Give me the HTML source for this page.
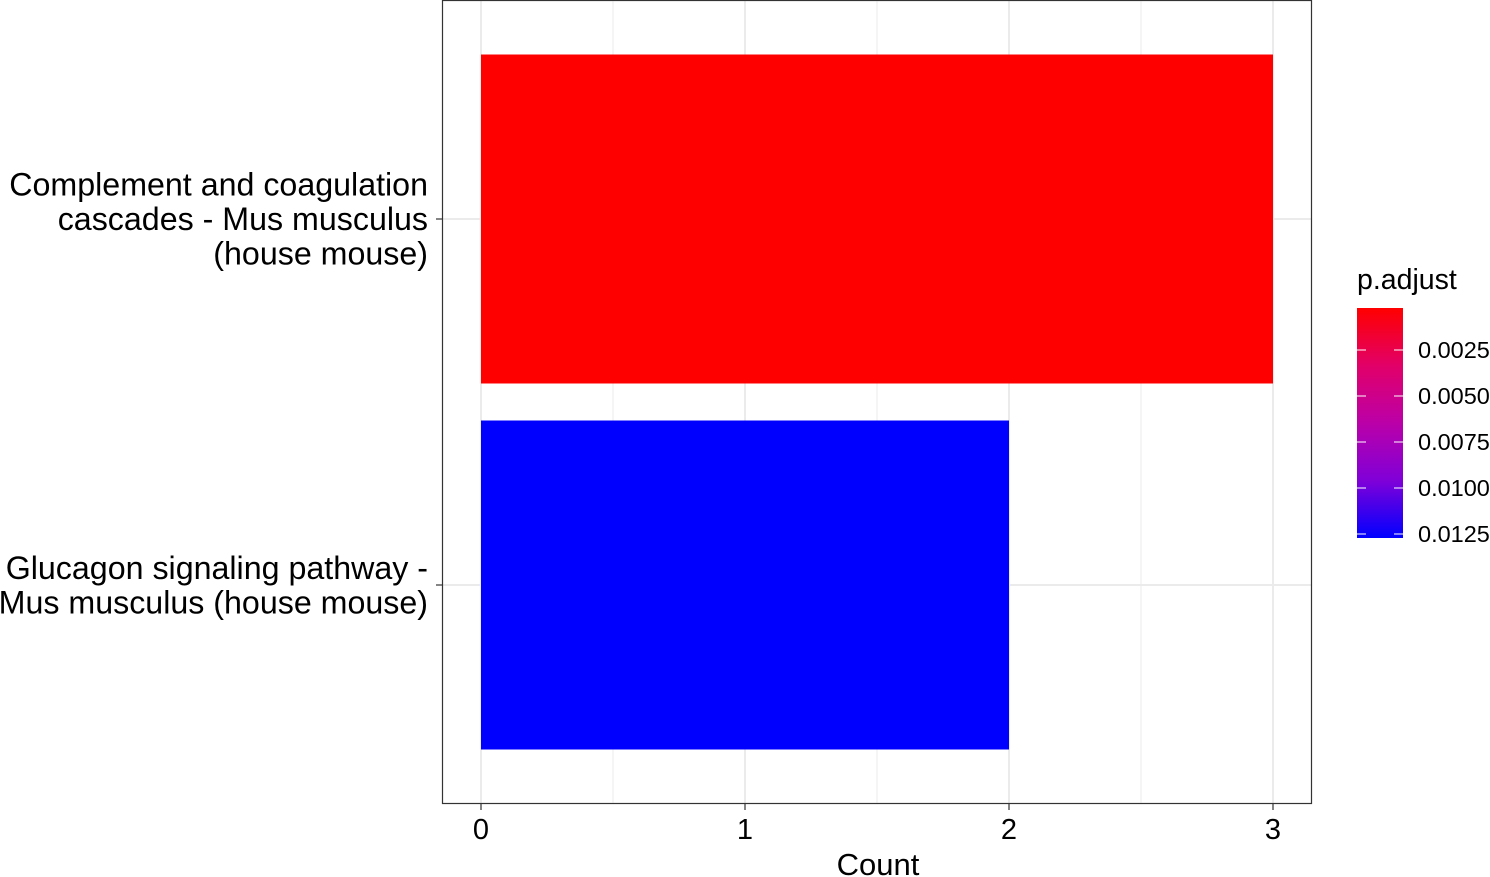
<!DOCTYPE html>
<html><head><meta charset="utf-8"><style>
html,body{margin:0;padding:0;background:#fff}
svg{display:block;font-family:"Liberation Sans",sans-serif}
</style></head><body>
<svg id="chart" width="1490" height="877">
<defs><linearGradient id="grad" x1="0" y1="1" x2="0" y2="0">
<stop offset="0" stop-color="#0000ff"/>
<stop offset="0.25" stop-color="#8000d8"/>
<stop offset="0.5" stop-color="#bb00a8"/>
<stop offset="0.75" stop-color="#e20068"/>
<stop offset="1" stop-color="#ff0000"/></linearGradient></defs>
</svg>
<script>
const categories = ["Complement and coagulation cascades - Mus musculus (house mouse)", "Glucagon signaling pathway - Mus musculus (house mouse)"];
const labelLines = [["Complement and coagulation","cascades - Mus musculus","(house mouse)"],["Glucagon signaling pathway -","Mus musculus (house mouse)"]];
const counts = [3, 2];
const padj = [0.0002, 0.0127];
const xTicks = [0, 1, 2, 3];
const legendTicks = [0.0025, 0.0050, 0.0075, 0.0100, 0.0125];
const legendTickLabels = ["0.0025","0.0050","0.0075","0.0100","0.0125"];

const svg = document.getElementById('chart');
const NS = 'http://www.w3.org/2000/svg';
function mk(tag, attrs, parent){const e=document.createElementNS(NS,tag);for(const k in attrs)e.setAttribute(k,attrs[k]);(parent||svg).appendChild(e);return e;}
const P = {l:442, r:1312, t:0, b:804};
const x = v => 481 + v*264;
const bandH = 366, yCenter = i => 219 + i*bandH;
const pMin = 0.0002, pMax = 0.0127;
function color(p){const t=Math.max(0,Math.min(1,(p-pMin)/(pMax-pMin)));return `rgb(${Math.round(255*(1-t))},0,${Math.round(255*t)})`;}
const lx = p => 350 + (p-0.0025)/0.0025*46;

mk('rect',{x:P.l,y:P.t,width:P.r-P.l,height:P.b-P.t,fill:'#fff'});
for(let v=0.5; v<3.5; v+=1){const g=mk('line',{x1:x(v),x2:x(v),y1:P.t,y2:P.b,stroke:'#ebebeb','stroke-width':1});}
xTicks.forEach(v=>{const g=mk('line',{x1:x(v),x2:x(v),y1:P.t,y2:P.b,stroke:'#ebebeb','stroke-width':2});});
categories.forEach((c,i)=>{const g=mk('line',{x1:P.l,x2:P.r,y1:yCenter(i),y2:yCenter(i),stroke:'#ebebeb','stroke-width':2});});
categories.forEach((c,i)=>{
  const b=mk('rect',{x:x(0),y:yCenter(i)-164.5,width:x(counts[i])-x(0),height:329,fill:color(padj[i])});
  
  
});
const border=mk('rect',{x:P.l+0.5,y:P.t+0.5,width:P.r-P.l-1,height:P.b-P.t-1,fill:'none',stroke:'#333','stroke-width':1.2});


xTicks.forEach(v=>{
  mk('line',{x1:x(v),x2:x(v),y1:P.b,y2:P.b+6,stroke:'#333','stroke-width':1.2});
  const t=mk('text',{x:x(v),y:839,'font-size':29,'text-anchor':'middle',fill:'#000'});t.textContent=v;
  
  
});
const xt=mk('text',{x:878,y:875,'font-size':31,'text-anchor':'middle',fill:'#000'});xt.textContent='Count';


labelLines.forEach((lines,i)=>{
  mk('line',{x1:P.l-6,x2:P.l,y1:yCenter(i),y2:yCenter(i),stroke:'#333','stroke-width':1.2});
  const n=lines.length, y0=yCenter(i)-(n-1)*34.5/2+11;
  const t=mk('text',{'font-size':32.2,'text-anchor':'end',fill:'#000'});
  
  
  lines.forEach((s,j)=>{const ts=mk('tspan',{x:428,y:y0+j*34.5},t);ts.textContent=s;});
});
const lt=mk('text',{x:1357,y:289,'font-size':28.5,fill:'#000'});lt.textContent='p.adjust';


const cb=mk('rect',{x:1357,y:308,width:46,height:230,fill:'url(#grad)'});


legendTicks.forEach((v,i)=>{
  const y=lx(v);
  mk('line',{x1:1357,x2:1366,y1:y,y2:y,stroke:'#fff','stroke-width':1});
  mk('line',{x1:1394,x2:1403,y1:y,y2:y,stroke:'#fff','stroke-width':1});
  const t=mk('text',{x:1418,y:y+8,'font-size':23.5,fill:'#000'});t.textContent=legendTickLabels[i];
  
  
});
</script>
</body></html>
